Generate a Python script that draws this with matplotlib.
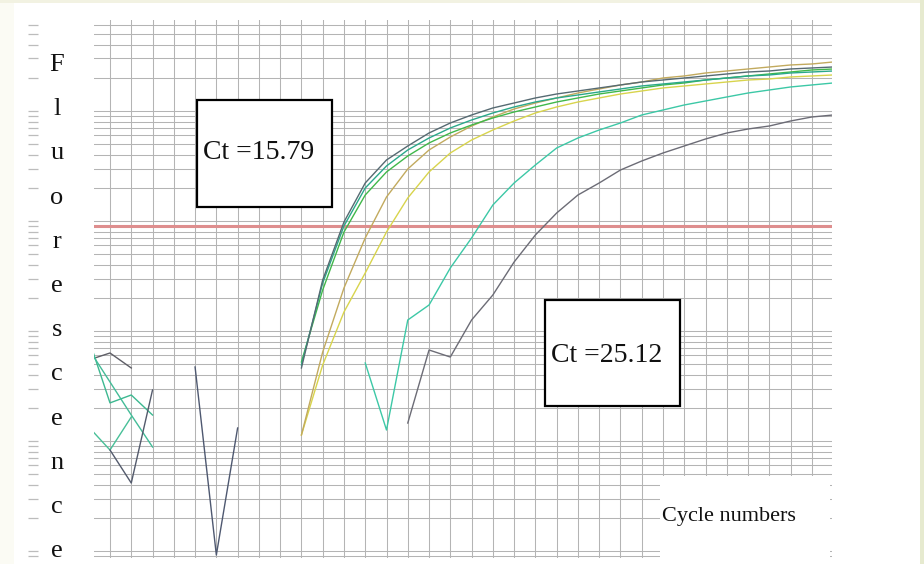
import numpy as np
import matplotlib
matplotlib.use("Agg")
import matplotlib.pyplot as plt
from matplotlib.patches import Rectangle
from matplotlib.ticker import LogLocator, NullFormatter

# ---------------- data (fluorescence vs cycle) ----------------
cyc_early = list(range(14, 40))
curve_a = [46.1, 291, 979, 2216, 3585, 4807, 6310, 7780, 9196, 10650, 11820, 13130, 14270,
           15200, 16190, 17240, 18350, 19130, 19950, 20810, 21700, 22620, 23100, 24090, 24600, 25120]
curve_b = [49.1, 273, 901, 1995, 3162, 4421, 5681, 7007, 8282, 9590, 10875, 12070, 13130,
           13980, 14890, 15850, 16880, 17600, 18350, 19130, 19950, 20810, 21250, 22150, 22620, 23100]
curve_c = [52.3, 236, 794, 1723, 2790, 3899, 5118, 6310, 7459, 8638, 9793, 10875, 12070,
           13130, 14270, 15200, 16190, 17240, 17970, 19130, 19950, 20810, 21700, 22620, 23590, 24090]
curve_d = [11.34, 64.4, 246, 701, 1653, 2970, 4421, 5801, 7304, 8821, 10430, 11820, 13130,
           14570, 15850, 17240, 18350, 19950, 20810, 22150, 23100, 24090, 25120, 26200, 26750, 27890]
curve_e = [11.34, 49.1, 148.8, 337, 794, 1619, 2790, 4151, 5450, 6718, 8111, 9590, 10875,
           12070, 13130, 14270, 15200, 16190, 16880, 17600, 18350, 19130, 19540, 20380, 20810, 21250]
cyc_f = list(range(17, 40))
curve_f = [51.2, 12.59, 125.9, 172.3, 374, 701, 1398, 2216, 3229, 4609, 5681, 6718, 7780,
           9196, 10210, 11340, 12330, 13410, 14570, 15520, 16530, 17240, 17970]
cyc_g = list(range(19, 40))
curve_g = [14.57, 67.2, 58.0, 125.9, 212.5, 424, 746, 1182, 1723, 2216, 2908, 3511, 4151,
           4807, 5565, 6310, 6861, 7304, 8111, 8821, 9196]

# early-cycle noise traces
cyc_n1 = [4, 5, 6]
noise_1 = [54.5, 63.1, 46.1]
cyc_n2 = [4, 5, 6, 7]
noise_2 = [84.6, 22.2, 26.2, 17.23]
cyc_n3 = [4, 5, 6, 7]
noise_3 = [68.6, 34.4, 17.23, 8.82]
cyc_n4 = [4, 5, 6]
noise_4 = [13.41, 8.28, 16.53]
cyc_n5 = [5, 6, 7]
noise_5 = [8.28, 4.15, 29.1]
cyc_n6 = [9, 10, 11]
noise_6 = [47.1, 0.92, 13.13]

threshold = 901
ct_labels = ["Ct =15.79", "Ct =25.12"]
x_title = "Cycle numbers"
y_title = "Fluorescence"

# ---------------- figure ----------------
W, H = 924, 564
fig = plt.figure(figsize=(W / 100, H / 100), dpi=100)
fig.patch.set_facecolor("white")


def fx(px):
    return px / W


def fy(py):
    return 1 - py / H


# light border of the original image
fig.add_artist(Rectangle((0, 0), fx(14), 1, transform=fig.transFigure,
                         facecolor="#fbfbf4", edgecolor="none", zorder=-5))
fig.add_artist(Rectangle((0, fy(3)), 1, 3 / H, transform=fig.transFigure,
                         facecolor="#f2f2e2", edgecolor="none", zorder=-5))
fig.add_artist(Rectangle((fx(920), 0), 4 / W, 1, transform=fig.transFigure,
                         facecolor="#e6eacf", edgecolor="none", zorder=-5))

ax = fig.add_axes([fx(94), fy(558), (832 - 94) / W, (558 - 20) / H])
ax.set_facecolor("none")
ax.set_yscale("log")
ax.set_ylim(0.864, 67150)
ax.set_xlim(4.248, 38.945)

grid_color = "#b4b4b4"
ax.set_xticks(np.arange(5, 39))
ax.yaxis.set_major_locator(LogLocator(base=10, numticks=20))
ax.yaxis.set_minor_locator(LogLocator(base=10, subs=np.arange(2, 10), numticks=20))
ax.yaxis.set_major_formatter(NullFormatter())
ax.yaxis.set_minor_formatter(NullFormatter())
ax.tick_params(axis="x", which="both", length=0, labelbottom=False)
ax.grid(True, which="major", axis="x", color=grid_color, lw=0.75)
ax.grid(True, which="both", axis="y", color=grid_color, lw=0.75)
for s in ax.spines.values():
    s.set_visible(False)
ax.spines["left"].set_position(("outward", 56 * 0.72))
ax.tick_params(axis="y", which="both", direction="out", length=7.2,
               color="#bcbcbc", width=0.9, labelleft=False)
ax.set_axisbelow(True)

# threshold line
ax.axhline(threshold, color="#de8e8e", lw=2.2, zorder=1.5)

lw = 1.0
ax.plot(cyc_early, curve_e, color="#d8d44c", lw=lw, zorder=3)
ax.plot(cyc_early, curve_d, color="#c2aa5e", lw=lw, zorder=3)
ax.plot(cyc_early, curve_c, color="#40b84a", lw=lw, zorder=3)
ax.plot(cyc_early, curve_b, color="#2aa88a", lw=lw, zorder=3)
ax.plot(cyc_early, curve_a, color="#566a72", lw=lw, zorder=3)
ax.plot(cyc_f, curve_f, color="#3cc8a6", lw=lw, zorder=3)
ax.plot(cyc_g, curve_g, color="#6c6c76", lw=lw, zorder=3)

ax.plot(cyc_n1, noise_1, color="#5e5e66", lw=lw, zorder=3)
ax.plot(cyc_n2, noise_2, color="#3cb890", lw=lw, zorder=3)
ax.plot(cyc_n3, noise_3, color="#44bc98", lw=lw, zorder=3)
ax.plot(cyc_n4, noise_4, color="#48c098", lw=lw, zorder=3)
ax.plot(cyc_n5, noise_5, color="#535a6c", lw=lw, zorder=3)
ax.plot(cyc_n6, noise_6, color="#4e5870", lw=lw, zorder=3)

serif = ["Liberation Serif", "DejaVu Serif"]

# Ct boxes
for (x0, y0, x1, y1), label, (tx, ty) in [((197, 100, 332, 207), ct_labels[0], (259, 153)),
                                          ((545, 300, 680, 406), ct_labels[1], (607, 355))]:
    fig.add_artist(Rectangle((fx(x0), fy(y1)), (x1 - x0) / W, (y1 - y0) / H,
                             transform=fig.transFigure, facecolor="white",
                             edgecolor="black", lw=1.6, zorder=5))
    fig.text(fx(tx), fy(ty), label, ha="center", va="center", fontsize=20,
             family=serif, color="#111111", zorder=6)

# x-axis title box
fig.add_artist(Rectangle((fx(660), 0), (830 - 660) / W, (564 - 476) / H,
                         transform=fig.transFigure, facecolor="white",
                         edgecolor="none", zorder=5))
fig.text(fx(729), fy(517), x_title, ha="center", va="center", fontsize=16,
         family=serif, color="#111111", zorder=6)

# vertical y title (one letter per line)
for i, ch in enumerate(y_title):
    fig.text(fx(57), fy(71 + 44.2 * i), ch, ha="center", va="baseline",
             fontsize=19, family=serif, color="#111111")

fig.savefig("out.png", dpi=100)
